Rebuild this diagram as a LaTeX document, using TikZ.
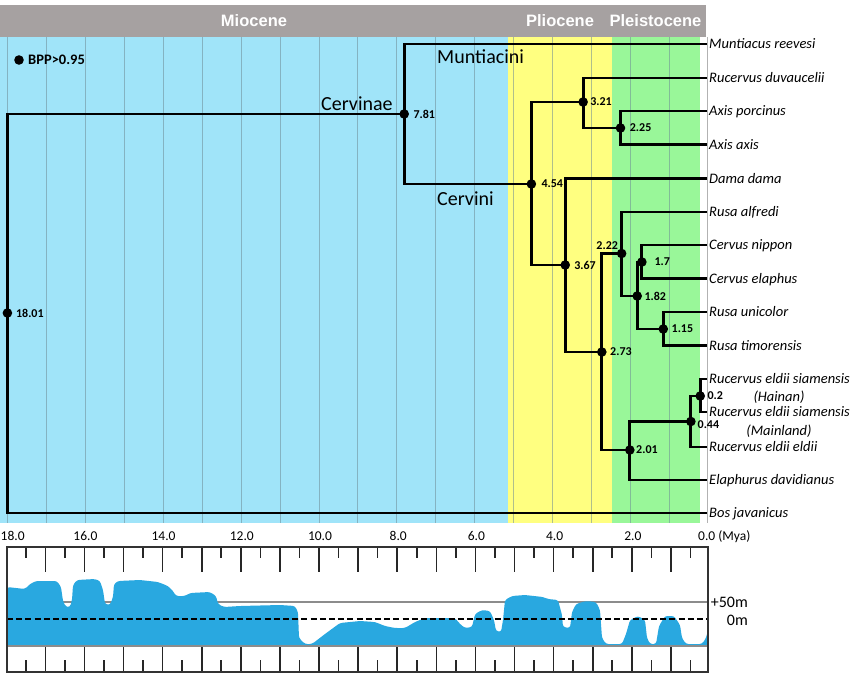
\documentclass[tikz,border=0pt]{standalone}
\usepackage{fontspec}
\setmainfont{Carlito}
\newfontfamily\hdrfont{Liberation Sans}
\usetikzlibrary{positioning}
\definecolor{mio}{RGB}{160,228,249}
\definecolor{plio}{RGB}{255,255,128}
\definecolor{pleis}{RGB}{153,247,153}
\definecolor{hdrgray}{RGB}{166,161,161}
\definecolor{sea}{RGB}{41,168,224}
\definecolor{gridc}{RGB}{110,140,150}
\tikzset{
  dot/.style={circle,fill=black,inner sep=0pt,minimum size=9.6pt},
  branch/.style={line width=2.8pt,line join=miter},
  sp/.style={anchor=base west,inner sep=0pt,font=\fontsize{14.5}{17}\selectfont\itshape},
  spsub/.style={anchor=base,inner sep=0pt,font=\fontsize{14.5}{17}\selectfont\itshape},
  age/.style={anchor=west,inner sep=0pt,font=\fontsize{12}{13}\selectfont\bfseries},
  clade/.style={anchor=base west,inner sep=0pt,font=\fontsize{20}{24}\selectfont},
  era/.style={inner sep=0pt,text=white,font=\hdrfont\fontsize{16.5}{19}\selectfont\bfseries},
  axlab/.style={anchor=base,inner sep=0pt,font=\fontsize{13.5}{16}\selectfont},
  sealab/.style={anchor=base east,inner sep=0pt,font=\fontsize{16}{19}\selectfont},
  gridline/.style={gridc,opacity=0.55,line width=0.9pt},
  tick/.style={black!85,line width=1.6pt},
  boxline/.style={black!80,line width=1.5pt},
  graylevel/.style={black!45,line width=1.5pt}
}
\begin{document}
\begin{tikzpicture}[x=1pt,y=-1pt]
\useasboundingbox (0,0) rectangle (850,688);
% ---------- backgrounds
\fill[hdrgray] (0,5) rectangle (706,37);
\fill[mio] (0,37) rectangle (508,523);
\fill[plio] (508,37) rectangle (611.5,523);
\fill[pleis] (611.5,37) rectangle (700,523);
\foreach \t in {1,...,18}{
  \draw[gridline] ({708-38.9*\t},37) -- ({708-38.9*\t},523);
}
\draw[black!30,line width=1pt] (707,37) -- (707,523);
\node[era] (mio) at (254,21) {Miocene};
\node[era] (plio) at (560,21) {Pliocene};
\node[era] (pleis) at (655.5,21) {Pleistocene};
% ---------- legend
\node[dot] (legdot) at (19,60) {};
\node[anchor=base west,inner sep=0pt,font=\fontsize{14.5}{17}\selectfont\bfseries] (legtxt) at (28,64.7) {BPP>0.95};
% ---------- tip coordinates
\coordinate (tMun) at (707,44);
\coordinate (tRdu) at (707,78);
\coordinate (tApo) at (707,111);
\coordinate (tAax) at (707,144.5);
\coordinate (tDam) at (707,178.5);
\coordinate (tRal) at (707,212);
\coordinate (tCni) at (707,245);
\coordinate (tCel) at (707,278.5);
\coordinate (tRun) at (707,312);
\coordinate (tRti) at (707,345.5);
\coordinate (tHai) at (707,379);
\coordinate (tMai) at (707,412);
\coordinate (tEld) at (707,447);
\coordinate (tEla) at (707,480);
\coordinate (tBos) at (707,513);
% ---------- internal nodes
\node[dot] (nR)   at ({708-38.9*18.01},313) {};
\node[dot] (n781) at ({708-38.9*7.81},114) {};
\node[dot] (n454) at ({708-38.9*4.54},184) {};
\node[dot] (n321) at ({708-38.9*3.21},102) {};
\node[dot] (n225) at ({708-38.9*2.25},128) {};
\node[dot] (n367) at ({708-38.9*3.67},265) {};
\node[dot] (n273) at ({708-38.9*2.73},352) {};
\node[dot] (n222) at ({708-38.9*2.22},253.5) {};
\node[dot] (n182) at ({708-38.9*1.82},296) {};
\node[dot] (n17)  at ({708-38.9*1.7},262) {};
\node[dot] (n115) at ({708-38.9*1.15},329) {};
\node[dot] (n201) at ({708-38.9*2.01},450) {};
\node[dot] (n044) at ({708-38.9*0.44},421.5) {};
\node[dot] (n02)  at ({708-38.9*0.2},396) {};
% ---------- branches
\draw[branch] (nR.center) |- (n781.center);
\draw[branch] (nR.center) |- (tBos);
\draw[branch] (n781.center) |- (tMun);
\draw[branch] (n781.center) |- (n454.center);
\draw[branch] (n454.center) |- (n321.center);
\draw[branch] (n454.center) |- (n367.center);
\draw[branch] (n321.center) |- (tRdu);
\draw[branch] (n321.center) |- (n225.center);
\draw[branch] (n225.center) |- (tApo);
\draw[branch] (n225.center) |- (tAax);
\draw[branch] (n367.center) |- (tDam);
\draw[branch] (n367.center) |- (n273.center);
\draw[branch] (n273.center) |- (n222.center);
\draw[branch] (n273.center) |- (n201.center);
\draw[branch] (n222.center) |- (tRal);
\draw[branch] (n222.center) |- (n182.center);
\draw[branch] (n182.center) |- (n17.center);
\draw[branch] (n182.center) |- (n115.center);
\draw[branch] (n17.center) |- (tCni);
\draw[branch] (n17.center) |- (tCel);
\draw[branch] (n115.center) |- (tRun);
\draw[branch] (n115.center) |- (tRti);
\draw[branch] (n201.center) |- (n044.center);
\draw[branch] (n201.center) |- (tEla);
\draw[branch] (n044.center) |- (n02.center);
\draw[branch] (n044.center) |- (tEld);
\draw[branch] (n02.center) |- (tHai);
\draw[branch] (n02.center) |- (tMai);
% ---------- age labels
\node[age,right=3.5pt of nR] (lR) {18.01};
\node[age,right=4.2pt of n781] (l781) {7.81};
\node[age,right=5pt of n454] (l454) {4.54};
\node[age,right=2pt of n321] (l321) {3.21};
\node[age,right=4.2pt of n225] (l225) {2.25};
\node[age,right=3.9pt of n367] (l367) {3.67};
\node[age,right=3.2pt of n273] (l273) {2.73};
\node[age,anchor=south east,above left=0pt and 0pt of n222] (l222) {2.22};
\node[age,right=2.2pt of n182] (l182) {1.82};
\node[age,right=7.5pt of n17] (l17) {1.7};
\node[age,right=3.2pt of n115] (l115) {1.15};
\node[age,right=1.2pt of n201] (l201) {2.01};
\node[age,right=1.6pt of n044,yshift=-3pt] (l044) {0.44};
\node[age,right=2.2pt of n02] (l02) {0.2};
% ---------- clade labels
\node[clade] (cMun) at (437,63) {Muntiacini};
\node[clade] (cCvn) at (321,110) {Cervinae};
\node[clade] (cCvi) at (437,205) {Cervini};
% ---------- species
\node[sp] (sMun) at (709,48.7) {Muntiacus reevesi};
\node[sp] (sRdu) at (709,82.7) {Rucervus duvaucelii};
\node[sp] (sApo) at (709,115.7) {Axis porcinus};
\node[sp] (sAax) at (709,149.2) {Axis axis};
\node[sp] (sDam) at (709,183.2) {Dama dama};
\node[sp] (sRal) at (709,216.7) {Rusa alfredi};
\node[sp] (sCni) at (709,249.7) {Cervus nippon};
\node[sp] (sCel) at (709,283.2) {Cervus elaphus};
\node[sp] (sRun) at (709,316.7) {Rusa unicolor};
\node[sp] (sRti) at (709,350.2) {Rusa timorensis};
\node[sp] (sHai) at (709,383.7) {Rucervus eldii siamensis};
\node[spsub] (sHai2) at (779,401.7) {(Hainan)};
\node[sp] (sMai) at (709,416.7) {Rucervus eldii siamensis};
\node[spsub] (sMai2) at (779,435.7) {(Mainland)};
\node[sp] (sEld) at (709,451.7) {Rucervus eldii eldii};
\node[sp] (sEla) at (709,484.7) {Elaphurus davidianus};
\node[sp] (sBos) at (709,517.7) {Bos javanicus};
% ---------- time axis labels
\node[axlab,anchor=base west] (a18) at (0.5,540) {18.0};
\foreach \t/\nm in {16/a16,14/a14,12/a12,10/a10,8/a8,6/a6,4/a4,2/a2}{
  \node[axlab] (\nm) at ({711-39.1*\t},540) {\t.0};
}
\node[axlab,anchor=base west] (a0) at (698,540) {0.0 (Mya)};
% ---------- sea level panel
\begin{scope}
\clip (7,547) rectangle (708,672);
\draw[graylevel] (7,602) -- (708,602);
\fill[sea,rounded corners=2.5pt] (7,646) -- (7,587) -- (25,589) -- (30,584) -- (36,581) -- (57,581) -- (61,587) -- (63,601) -- (66,607) -- (70,607) -- (72,600) -- (73,585) -- (77,580) -- (95,579) -- (100,581) -- (103,590) -- (105,604) -- (110,605) -- (113,597) -- (114,584) -- (118,581) -- (140,580) -- (158,582) -- (168,586) -- (173,591) -- (176,596) -- (185,596) -- (190,593) -- (210,592) -- (216,596) -- (218,604) -- (224,607) -- (240,606) -- (280,605) -- (295,606) -- (298,612) -- (299,638) -- (305,644) -- (312,644) -- (325,634) -- (340,623) -- (360,621) -- (375,622) -- (385,626) -- (395,628) -- (405,628) -- (415,622) -- (425,618) -- (455,618) -- (460,624) -- (465,628) -- (472,627) -- (475,614) -- (482,610) -- (490,611) -- (494,620) -- (496,631) -- (501,632) -- (503,620) -- (505,600) -- (512,596) -- (525,595) -- (543,597) -- (548,599) -- (558,600) -- (562,615) -- (563,627) -- (570,628) -- (572,612) -- (576,604) -- (586,601) -- (596,602) -- (600,610) -- (602,638) -- (606,644) -- (622,644) -- (626,634) -- (630,620) -- (638,616) -- (645,620) -- (647,638) -- (650,644) -- (656,644) -- (659,626) -- (665,616) -- (674,616) -- (680,625) -- (682,638) -- (686,644) -- (702,644) -- (706,638) -- (708,630) -- (708,646) -- cycle;
\draw[black,line width=2pt,dash pattern=on 6pt off 3.2pt] (7,619) -- (708,619);
\draw[graylevel] (7,646) -- (708,646);
\end{scope}
\foreach \t in {1,...,17}{
  \draw[tick] ({710-39.1*\t},547) -- ({710-39.1*\t},572);
  \draw[tick] ({710-39.1*\t},647) -- ({710-39.1*\t},672);
}
\foreach \t in {0,...,17}{
  \draw[tick] ({710-39.1*(\t+0.5)},548) -- ({710-39.1*(\t+0.5)},558);
  \draw[tick] ({710-39.1*(\t+0.5)},660) -- ({710-39.1*(\t+0.5)},672);
}
\draw[boxline] (7,547) rectangle (708,672);
\node[sealab] (p50) at (748,607.2) {+50m};
\node[sealab] (z0) at (748,625) {0m};
\end{tikzpicture}
\end{document}
